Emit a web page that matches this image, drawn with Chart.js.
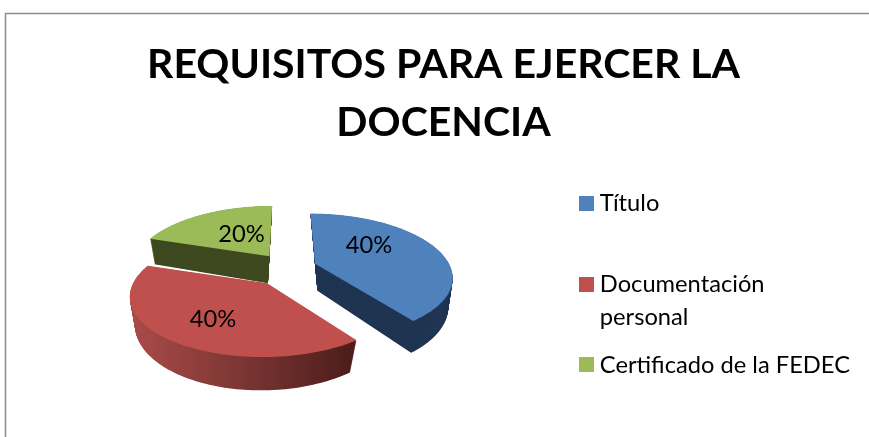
<!DOCTYPE html>
<html><head><meta charset="utf-8">
<style>html,body{margin:0;padding:0;background:#fff}canvas{display:block}</style>
<script src="https://cdn.jsdelivr.net/npm/chart.js@4/dist/chart.umd.min.js"></script>
</head><body>
<div style="width:869px;height:437px"><canvas id="c" width="869" height="437"></canvas></div>
<script>
const titleLines = ['REQUISITOS PARA EJERCER LA', 'DOCENCIA'];
const categories = [['Título', ''], ['Documentación', 'personal'], 'Certificado de la FEDEC'];
const shares = [40, 40, 20];
const explode = [30, 33, 29];
const topColors = ['#4F81BD', '#C0504D', '#9BBB59'];
const sideColors = ['#1F3552', null, '#3F4A20'];
const redSideStops = ['#A94B48', '#7A3533', '#4A1C1A'];
const labelShifts = [[54, -18], [-54, 36], [-28, -22]];

const FONT = 'Lato, Carlito, "Open Sans", sans-serif';
const view = { squash: 0.446, persp: 0.19, depth: 27, taper: 0.05, lean: 0.0032, offsetSquash: 0.54 };

function apexOf(arc) {
  const mid = (arc.startAngle + arc.endAngle) / 2, o = arc.options.offset;
  return { x: arc.x + o * Math.cos(mid), y: arc.y + o * view.offsetSquash * Math.sin(mid) };
}
function project(arc, apex, angle, radius, t) {
  const R = arc.outerRadius, u = radius * Math.cos(angle), w = radius * Math.sin(angle);
  const f = 1 / (1 - view.persp * w / R), L = apex.x - arc.x;
  const x = apex.x + u * f * (1 - view.taper * t / view.depth) + L * (f - 1) + t * view.lean * L;
  return { x, y: apex.y + view.squash * w * f + t * f };
}
function tracePie(ctx, arc, apex, t) {
  ctx.beginPath();
  const p0 = project(arc, apex, 0, 0, t);
  ctx.moveTo(p0.x, p0.y);
  const n = 96;
  for (let i = 0; i <= n; i++) {
    const a = arc.startAngle + (arc.endAngle - arc.startAngle) * i / n;
    const p = project(arc, apex, a, arc.outerRadius, t);
    ctx.lineTo(p.x, p.y);
  }
  ctx.closePath();
}
function swatch(color) {
  const s = document.createElement('canvas');
  s.width = 15; s.height = 15;
  const g = s.getContext('2d');
  g.fillStyle = color; g.fillRect(0, 0, 15, 15);
  return s;
}
const frame = {
  id: 'frame',
  beforeDraw(chart) {
    const c = chart.ctx;
    c.save(); c.strokeStyle = '#8C8C8C'; c.lineWidth = 1.5;
    c.beginPath(); c.moveTo(5.5, chart.height); c.lineTo(5.5, 13.5); c.lineTo(chart.width, 13.5); c.stroke();
    c.restore();
  }
};
const placeBlocks = {
  id: 'placeBlocks',
  afterLayout(chart) {
    chart.titleBlock.left = 18; chart.titleBlock.right = chart.width;
    chart.legend.top += 94; chart.legend.bottom += 94;
    chart.legend.left -= 1; chart.legend.right -= 1;
  }
};
const pie3d = {
  id: 'pie3d',
  beforeDatasetDraw(chart, args) {
    const ctx = chart.ctx, arcs = args.meta.data;
    [2, 0, 1].forEach(i => {
      const arc = arcs[i], apex = apexOf(arc);
      let side = sideColors[i];
      if (!side) {
        side = ctx.createLinearGradient(apex.x - arc.outerRadius, 0, apex.x + 90, 0);
        redSideStops.forEach((s, k) => side.addColorStop(k / (redSideStops.length - 1), s));
      }
      ctx.fillStyle = side;
      for (let t = view.depth; t > 0; t -= 0.5) { tracePie(ctx, arc, apex, t); ctx.fill(); }
      ctx.fillStyle = topColors[i];
      tracePie(ctx, arc, apex, 0); ctx.fill();
    });
    ctx.save();
    ctx.fillStyle = '#000'; ctx.font = '23.7px ' + FONT; ctx.textAlign = 'center'; ctx.textBaseline = 'middle';
    arcs.forEach((arc, i) => {
      const apex = apexOf(arc);
      ctx.fillText(shares[i] + '%', apex.x + labelShifts[i][0], apex.y + labelShifts[i][1]);
    });
    ctx.restore();
    return false;
  }
};
new Chart(document.getElementById('c'), {
  type: 'pie',
  data: { labels: categories, datasets: [{ data: shares, backgroundColor: topColors, borderWidth: 0, offset: explode, radius: 134 }] },
  plugins: [frame, placeBlocks, pie3d],
  options: {
    responsive: false, animation: false,
    layout: { padding: { left: 2, right: 8, top: 0, bottom: 57 } },
    plugins: {
      tooltip: { enabled: false },
      title: { display: true, text: titleLines, color: '#000', align: 'center',
        font: { family: FONT, size: 41, weight: 'bold', lineHeight: 1.41 }, padding: { top: 36, bottom: 6 } },
      legend: { position: 'right', align: 'center',
        labels: { color: '#000', boxHeight: 15, usePointStyle: true, pointStyleWidth: 3, padding: 15,
          font: { family: FONT, size: 23.7, lineHeight: 1.39 },
          generateLabels() {
            return categories.map((t, i) => ({ text: t, fillStyle: topColors[i], strokeStyle: topColors[i], lineWidth: 0, pointStyle: swatch(topColors[i]), index: i, hidden: false }));
          } } }
    }
  }
});
</script>
</body></html>
